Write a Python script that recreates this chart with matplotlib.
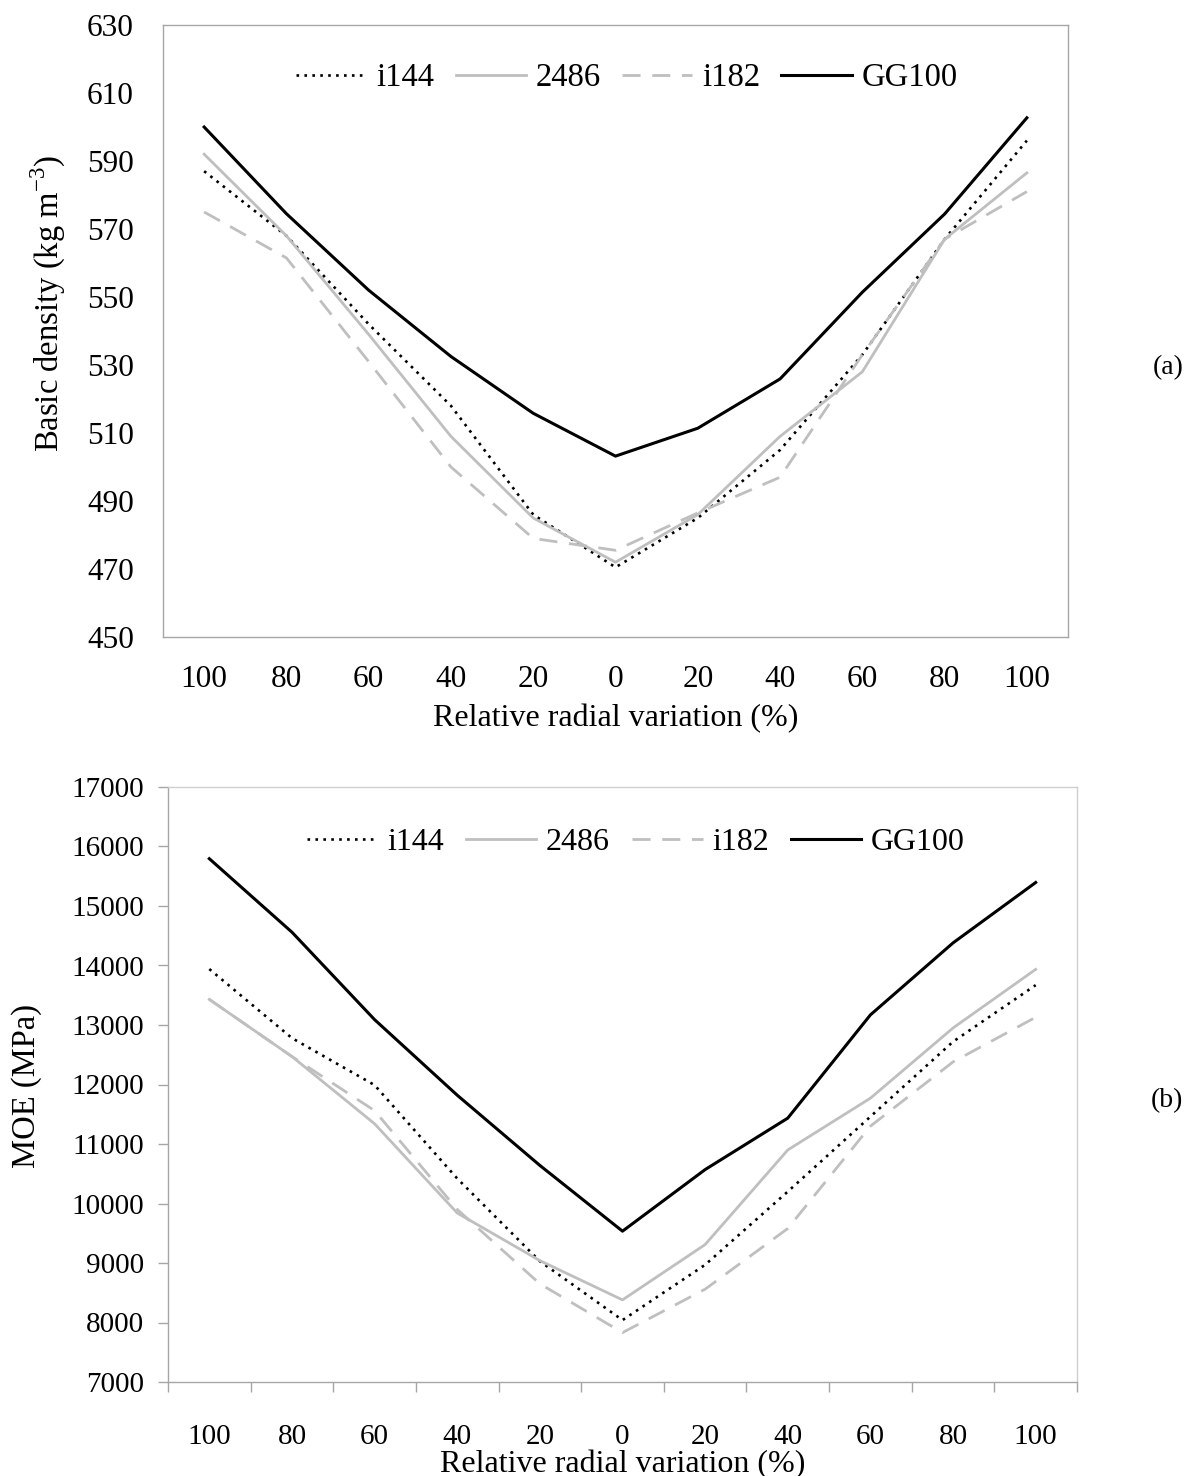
import matplotlib
matplotlib.use("Agg")
import matplotlib.pyplot as plt
import numpy as np

plt.rcParams['font.family'] = ['Liberation Serif', 'DejaVu Serif']
plt.rcParams['mathtext.fontset'] = 'custom'
plt.rcParams['mathtext.rm'] = 'Liberation Serif'

categories = ['100', '80', '60', '40', '20', '0', '20', '40', '60', '80', '100']
series_names = ['i144', '2486', 'i182', 'GG100']

density_i144 = [587, 568, 542, 518, 486, 470.5, 485, 505, 533, 567, 596]
density_2486 = [592, 568, 539, 509, 485, 472, 486, 509, 528, 567, 586.5]
density_i182 = [575, 561.5, 531, 500, 479, 475.5, 486.5, 497, 533, 567, 581]
density_gg100 = [600, 574.5, 552, 532.5, 515.8, 503.2, 511.4, 525.9, 551.4, 574.4, 602.7]

moe_i144 = [13940, 12780, 11990, 10420, 9030, 8040, 8970, 10200, 11460, 12720, 13670]
moe_2486 = [13430, 12470, 11340, 9840, 9040, 8380, 9310, 10900, 11770, 12950, 13935]
moe_i182 = [13430, 12470, 11560, 9900, 8650, 7830, 8560, 9580, 11300, 12380, 13130]
moe_gg100 = [15795, 14560, 13090, 11820, 10640, 9535, 10570, 11435, 13170, 14380, 15395]

density_ticks = [450, 470, 490, 510, 530, 550, 570, 590, 610, 630]
moe_ticks = [7000, 8000, 9000, 10000, 11000, 12000, 13000, 14000, 15000, 16000, 17000]

GRAY = '#bfbfbf'
styles = [
    dict(color='black', lw=1.9, ls=(0, (1, 2))),
    dict(color=GRAY, lw=2.0, ls='-'),
    dict(color=GRAY, lw=2.0, ls=(0, (6.5, 4.2))),
    dict(color='black', lw=2.2, ls='-'),
]

W, H = 1203, 1476
fig = plt.figure(figsize=(W / 100, H / 100), dpi=100)

def axbox(l, r, t, b):
    return [l / W, 1 - b / H, (r - l) / W, (b - t) / H]

x = np.arange(len(categories))

# ---------- (a) ----------
ax1 = fig.add_axes(axbox(163, 1068, 25, 637))
for name, vals, st in zip(series_names, [density_i144, density_2486, density_i182, density_gg100], styles):
    ax1.plot(x, vals, label=name, color=st['color'], lw=st['lw'], linestyle=st['ls'],
             solid_joinstyle='round')
ax1.set_xlim(-0.5, len(categories) - 0.5)
ax1.set_ylim(450, 630)
ax1.set_yticks(density_ticks)
ax1.set_xticks(x)
ax1.set_xticklabels(categories)
ax1.tick_params(axis='both', length=0, labelsize=22.5)
ax1.tick_params(axis='y', pad=21)
ax1.tick_params(axis='x', pad=20)
for s in ax1.spines.values():
    s.set_color('#a6a6a6')
    s.set_linewidth(1.0)
ax1.set_xlabel('Relative radial variation (%)', fontsize=23, labelpad=7)
fig.text(48 / W, 1 - 303 / H, 'Basic density (kg m$^{-3}$)', rotation=90,
         ha='center', va='center', fontsize=23.5)
leg1 = ax1.legend(loc='center', bbox_to_anchor=(627 / W, 1 - 78 / H),
                  bbox_transform=fig.transFigure, ncol=4, frameon=False,
                  fontsize=23.5, handlelength=2.15, handletextpad=0.3,
                  columnspacing=0.65, borderpad=0, borderaxespad=0)
fig.text(1168 / W, 1 - 368 / H, '(a)', ha='center', va='center', fontsize=20)

# ---------- (b) ----------
ax2 = fig.add_axes(axbox(168, 1077, 787, 1382))
for name, vals, st in zip(series_names, [moe_i144, moe_2486, moe_i182, moe_gg100], styles):
    ax2.plot(x, vals, label=name, color=st['color'], lw=st['lw'], linestyle=st['ls'],
             solid_joinstyle='round')
ax2.set_xlim(-0.5, len(categories) - 0.5)
ax2.set_ylim(7000, 17000)
ax2.set_yticks(moe_ticks)
ax2.set_xticks(x)
ax2.set_xticklabels(categories)
ax2.set_xticks(np.arange(-0.5, len(categories), 1.0), minor=True)
ax2.tick_params(axis='x', which='major', length=0, labelsize=21, pad=30)
ax2.tick_params(axis='x', which='minor', length=7, width=1.0, color='#a6a6a6', direction='out')
ax2.tick_params(axis='y', length=7, width=1.0, color='#a6a6a6', direction='out',
                labelsize=21, pad=10)
for side, s in ax2.spines.items():
    s.set_linewidth(1.0)
    s.set_color('#a6a6a6' if side in ('left', 'bottom') else '#cfcfcf')
ax2.set_xlabel('Relative radial variation (%)', fontsize=23, labelpad=0)
fig.text(27 / W, 1 - 1086 / H, 'MOE (MPa)', rotation=90, ha='center', va='center', fontsize=23.5)
leg2 = ax2.legend(loc='center', bbox_to_anchor=(636 / W, 1 - 842 / H),
                  bbox_transform=fig.transFigure, ncol=4, frameon=False,
                  fontsize=23, handlelength=2.2, handletextpad=0.3,
                  columnspacing=0.7, borderpad=0, borderaxespad=0)
fig.text(1167 / W, 1 - 1101 / H, '(b)', ha='center', va='center', fontsize=20)

fig.savefig('out.png', dpi=100)
